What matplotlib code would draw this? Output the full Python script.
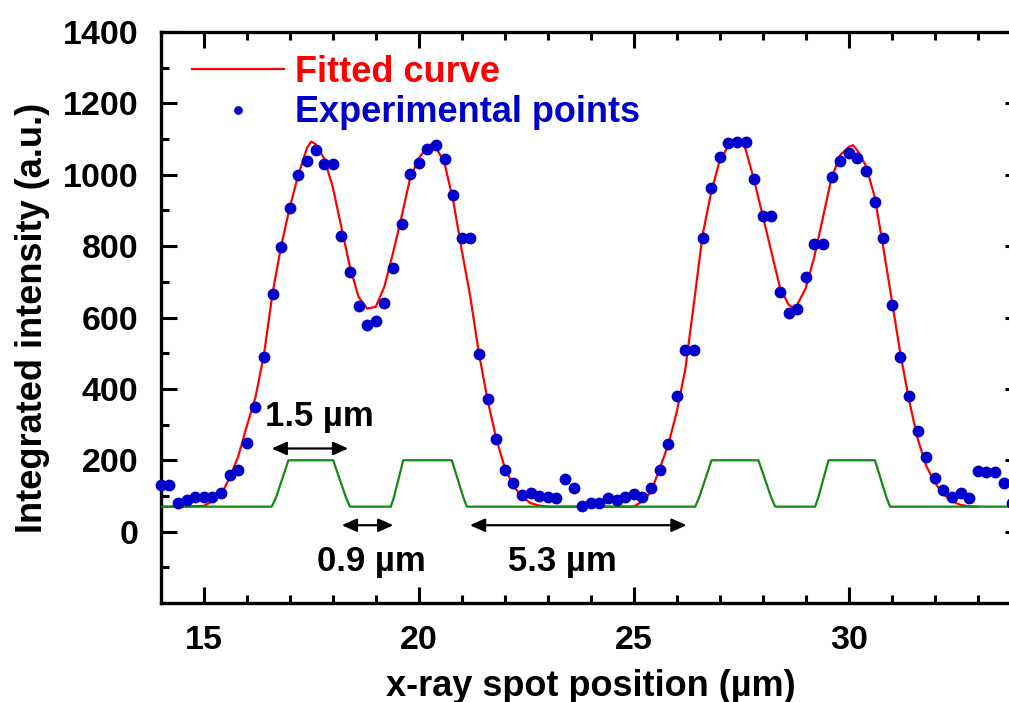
import numpy as np
import matplotlib
matplotlib.use("Agg")
import matplotlib.pyplot as plt
from matplotlib.ticker import MultipleLocator, FuncFormatter

plt.rcParams['font.family'] = ['Liberation Sans', 'DejaVu Sans']
plt.rcParams['font.weight'] = 'bold'

# Titik eksperimen (posisi spot, intensitas)
x_exp = [14.0, 14.2, 14.4, 14.6, 14.8, 15.0, 15.2, 15.4, 15.6, 15.8,
         16.0, 16.2, 16.4, 16.6, 16.8, 17.0, 17.2, 17.4, 17.6, 17.8,
         18.0, 18.2, 18.4, 18.6, 18.8, 19.0, 19.2, 19.4, 19.6, 19.8,
         20.0, 20.2, 20.4, 20.6, 20.8, 21.0, 21.2, 21.4, 21.6, 21.8,
         22.0, 22.2, 22.4, 22.6, 22.8, 23.0, 23.2, 23.4, 23.6, 23.8,
         24.0, 24.2, 24.4, 24.6, 24.8, 25.0, 25.2, 25.4, 25.6, 25.8,
         26.0, 26.2, 26.4, 26.6, 26.8, 27.0, 27.2, 27.4, 27.6, 27.8,
         28.0, 28.2, 28.4, 28.6, 28.8, 29.0, 29.2, 29.4, 29.6, 29.8,
         30.0, 30.2, 30.4, 30.6, 30.8, 31.0, 31.2, 31.4, 31.6, 31.8,
         32.0, 32.2, 32.4, 32.6, 32.8, 33.0, 33.2, 33.4, 33.6, 33.8]
y_exp = [130, 130, 81, 90, 98, 98, 98, 109, 158, 174,
         247, 350, 490, 665, 798, 906, 999, 1039, 1069, 1029,
         1029, 828, 728, 632, 579, 590, 642, 739, 861, 1002,
         1034, 1071, 1083, 1043, 943, 824, 824, 497, 373, 259,
         174, 135, 103, 107, 101, 97, 95, 148, 123, 72,
         79, 81, 93, 90, 96, 105, 98, 121, 174, 245,
         380, 509, 509, 822, 964, 1050, 1088, 1092, 1092, 987,
         884, 884, 672, 614, 625, 714, 806, 806, 994, 1038,
         1060, 1046, 1010, 924, 822, 635, 490, 380, 283, 208,
         149, 117, 98, 107, 93, 171, 168, 168, 135, 79]

# Kurva fit
x_fit = [14.0, 14.5, 15.0, 15.2, 15.4, 15.6, 15.8, 16.0, 16.2, 16.4,
         16.6, 16.8, 17.0, 17.2, 17.4, 17.5, 17.6, 17.8, 18.0, 18.2,
         18.4, 18.6, 18.8, 19.0, 19.2, 19.4, 19.6, 19.8, 20.0, 20.2,
         20.3, 20.4, 20.6, 20.8, 21.0, 21.2, 21.4, 21.6, 21.8, 22.0,
         22.2, 22.4, 22.6, 22.8, 23.0, 25.0, 25.2, 25.4, 25.6, 25.8,
         26.0, 26.2, 26.4, 26.6, 26.8, 27.0, 27.2, 27.4, 27.5, 27.6,
         27.8, 28.0, 28.2, 28.4, 28.6, 28.7, 28.8, 29.0, 29.2, 29.4,
         29.6, 29.8, 30.0, 30.1, 30.2, 30.4, 30.6, 30.8, 31.0, 31.2,
         31.4, 31.6, 31.8, 32.0, 32.2, 32.4, 32.6, 32.8, 33.0]
y_fit = [70, 70, 72, 85, 103, 150, 210, 295, 375, 495,
         668, 800, 908, 1000, 1075, 1093, 1086, 1046, 966, 854,
         742, 658, 625, 630, 686, 780, 882, 990, 1046, 1078,
         1086, 1078, 1032, 929, 789, 658, 499, 370, 262, 180,
         128, 98, 80, 73, 70, 70, 85, 110, 176, 242,
         335, 455, 640, 830, 950, 1040, 1080, 1094, 1095, 1072,
         985, 885, 785, 685, 636, 628, 635, 682, 770, 880,
         990, 1055, 1078, 1083, 1068, 1025, 940, 800, 650, 500,
         370, 262, 185, 138, 105, 85, 75, 71, 70]

# Profil struktur (garis hijau)
x_str = [14.0, 16.58, 16.68, 16.97, 18.01, 18.31, 18.40, 19.35, 19.42, 19.64,
         20.77, 21.04, 21.12, 26.43, 26.52, 26.81, 27.90, 28.20, 28.29, 29.22,
         29.29, 29.53, 30.61, 30.88, 30.96, 34.0]
y_str = [70, 70, 95, 200, 200, 95, 70, 70, 95, 200,
         200, 95, 70, 70, 95, 200, 200, 95, 70, 70,
         95, 200, 200, 95, 70, 70]

# Panah dimensi: (x awal, x akhir, y), label (x, y)
arrows = [(16.58, 18.36, 233), (18.21, 19.41, 18), (21.19, 26.23, 18)]
arrow_labels = ["1.5 µm", "0.9 µm", "5.3 µm"]
label_pos = [(17.68, 322), (18.89, -84), (23.33, -84)]

fig = plt.figure(figsize=(10.09, 7.02), dpi=100)
ax = fig.add_axes([0.1593, 0.141, 0.8523, 0.8134])

ax.plot(x_fit, y_fit, color='#ff0000', lw=1.6, label='Fitted curve', zorder=2)
ax.plot(x_str, y_str, color='#138a13', lw=1.6, zorder=3)
ax.plot(x_exp, y_exp, 'o', color='#0000cc', markersize=7.5, clip_on=False,
        label='Experimental points', zorder=4)

for (x0, x1, yy), txt, (tx, ty) in zip(arrows, arrow_labels, label_pos):
    ax.annotate('', xy=(x1, yy), xytext=(x0, yy),
                arrowprops=dict(arrowstyle='<|-|>,head_length=0.9,head_width=0.4',
                                color='black', lw=1.6, shrinkA=0, shrinkB=0))
    ax.text(tx, ty, txt, fontsize=25, fontweight='bold', ha='center', va='center')

ax.set_xlim(14, 34)
ax.set_ylim(-200, 1400)
ax.xaxis.set_major_locator(MultipleLocator(5))
ax.xaxis.set_minor_locator(MultipleLocator(1))
ax.yaxis.set_major_locator(MultipleLocator(200))
ax.yaxis.set_minor_locator(MultipleLocator(100))
ax.yaxis.set_major_formatter(FuncFormatter(lambda v, p: '' if v < 0 else f'{v:.0f}'))
ax.tick_params(which='both', direction='in', top=True, right=True, width=2.2,
               labelsize=24.5, pad=16)
ax.tick_params(which='major', length=11.5)
ax.tick_params(which='minor', length=5.8)
for sp in ax.spines.values():
    sp.set_linewidth(2.4)

ax.set_xlabel('x-ray spot position (µm)', fontsize=26, fontweight='bold', labelpad=9)
ax.set_ylabel('Integrated intensity (a.u.)', fontsize=26, fontweight='bold', labelpad=9)

leg = ax.legend(loc='upper left', bbox_to_anchor=(0.02, 0.985), frameon=False,
                fontsize=26, handlelength=2.55, handletextpad=0.3, labelspacing=0.15,
                markerscale=0.7, borderaxespad=0)
for t, c in zip(leg.get_texts(), ['#ff0000', '#0000cc']):
    t.set_color(c)

fig.savefig('out.png', dpi=100)
